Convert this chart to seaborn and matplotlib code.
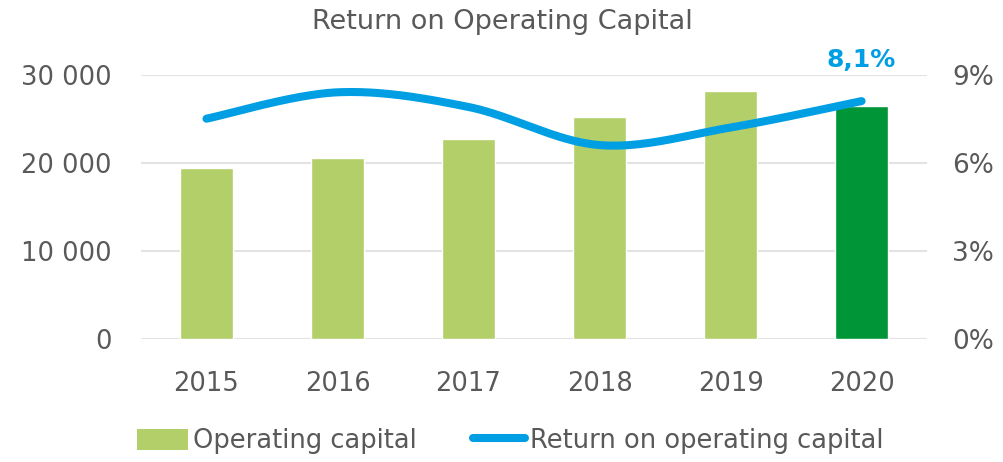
import numpy as np
import matplotlib
matplotlib.use("Agg")
import matplotlib.pyplot as plt
from matplotlib.patches import Patch
from matplotlib.lines import Line2D
from matplotlib.ticker import FuncFormatter
import seaborn as sns
import pandas as pd

years = ["2015", "2016", "2017", "2018", "2019", "2020"]
capital = [19400, 20500, 22700, 25200, 28200, 26400]
roc = [7.5, 8.4, 7.9, 6.6, 7.2, 8.1]
bar_colors = ["#B3CF69", "#B3CF69", "#B3CF69", "#B3CF69", "#B3CF69", "#009536"]
left_ticks = [0, 10000, 20000, 30000]
right_ticks = [0, 3, 6, 9]

TEXT = "#595959"
BLUE = "#009FE3"

sns.set_theme(style="white")
plt.rcParams["font.family"] = ["DejaVu Sans"]

fig = plt.figure(figsize=(10.04, 4.62), dpi=100)
ax = fig.add_axes([0.1404, 0.267, 0.783, 0.5713])

df = pd.DataFrame({"year": years, "capital": capital})
sns.barplot(data=df, x="year", y="capital", hue="year", palette=bar_colors,
            legend=False, width=0.4, saturation=1, ax=ax, zorder=2)
ax.set_ylim(0, 30000)
ax.set_xlim(-0.5, len(years) - 0.5)
ax.set_yticks(left_ticks)
ax.yaxis.set_major_formatter(FuncFormatter(lambda v, p: f"{int(v):,}".replace(",", " ")))
ax.grid(axis="y", color="#E3E3E3", lw=1.5, zorder=0)
ax.set_axisbelow(True)
for s in ax.spines.values():
    s.set_visible(False)
ax.set_xlabel("")
ax.set_ylabel("")
ax.tick_params(axis="y", length=0, pad=21, labelsize=18.5, labelcolor=TEXT)
ax.tick_params(axis="x", length=0, pad=23, labelsize=18.5, labelcolor=TEXT)

# smoothed line (cardinal / Catmull-Rom through the data points)
ax2 = ax.twinx()
ax2.set_ylim(0, 9)
ax2.set_yticks(right_ticks)
ax2.yaxis.set_major_formatter(FuncFormatter(lambda v, p: f"{int(v)}%"))
ax2.tick_params(axis="y", length=0, pad=18, labelsize=19, labelcolor=TEXT)
for s in ax2.spines.values():
    s.set_visible(False)
ax2.grid(False)

xs = np.arange(len(roc), dtype=float)
ys = np.array(roc, dtype=float)
px = np.concatenate([[xs[0]], xs, [xs[-1]]])
py = np.concatenate([[ys[0]], ys, [ys[-1]]])
cx, cy = [], []
t = np.linspace(0, 1, 40)
for i in range(1, len(px) - 2):
    p0, p1, p2, p3 = (np.array([px[j], py[j]]) for j in (i - 1, i, i + 1, i + 2))
    b1 = p1 + (p2 - p0) / 6
    b2 = p2 - (p3 - p1) / 6
    pts = ((1 - t) ** 3)[:, None] * p1 + (3 * (1 - t) ** 2 * t)[:, None] * b1 \
        + (3 * (1 - t) * t ** 2)[:, None] * b2 + (t ** 3)[:, None] * p2
    cx.extend(pts[:, 0]); cy.extend(pts[:, 1])
ax2.plot(cx, cy, color=BLUE, lw=5.8, solid_capstyle="round", zorder=3)
ax2.set_xlim(-0.5, len(years) - 0.5)

ax2.annotate(f"{roc[-1]:.1f}%".replace(".", ","), xy=(xs[-1], ys[-1]),
             xytext=(0, 21), textcoords="offset points", ha="center", va="bottom",
             color=BLUE, fontsize=18, fontweight="bold")

fig.text(0.5, 0.953, "Return on Operating Capital", ha="center", va="center",
         fontsize=19.5, color=TEXT)

handles = [Patch(facecolor=bar_colors[0], edgecolor="none"),
           Line2D([0], [0], color=BLUE, lw=5.8, solid_capstyle="round")]
fig.legend(handles, ["Operating capital", "Return on operating capital"],
           loc="center", bbox_to_anchor=(0.508, 0.045), ncol=2, frameon=False,
           fontsize=18.5, labelcolor=TEXT, handlelength=2.0, handletextpad=0.2,
           columnspacing=2.2, handleheight=0.9)

fig.savefig("out.png", dpi=100, facecolor="white")
